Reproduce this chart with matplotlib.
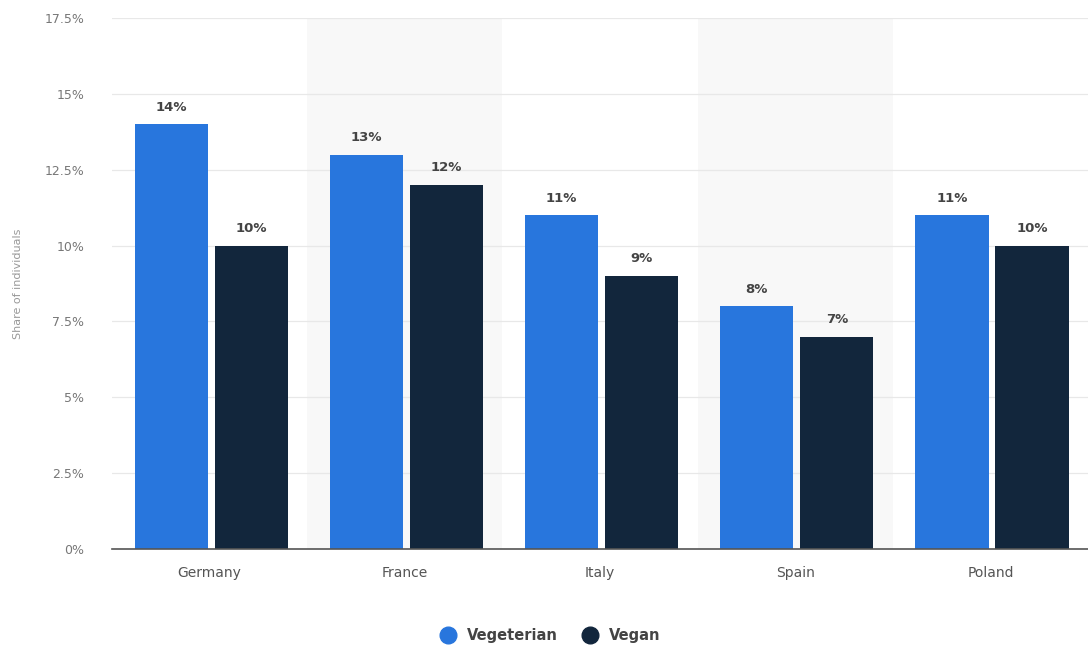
import matplotlib.pyplot as plt
import numpy as np
from matplotlib.lines import Line2D

countries = ["Germany", "France", "Italy", "Spain", "Poland"]
vegetarian = [14, 13, 11, 8, 11]
vegan = [10, 12, 9, 7, 10]
yticks = [0, 2.5, 5, 7.5, 10, 12.5, 15, 17.5]
ytick_labels = ["0%", "2.5%", "5%", "7.5%", "10%", "12.5%", "15%", "17.5%"]

blue = "#2876dd"
navy = "#12263c"

fig = plt.figure(figsize=(10.88, 6.48), dpi=100)
ax = fig.add_axes([0.103, 0.153, 0.897, 0.819])

x = np.arange(len(countries))
w = 0.376
off_a, off_b = -0.197, 0.213

# alternating background bands
for i in x:
    if i % 2 == 1:
        ax.axvspan(i - 0.5, i + 0.5, color="#f8f8f8", zorder=0, lw=0)

ax.bar(x + off_a, vegetarian, w, color=blue, zorder=3)
ax.bar(x + off_b, vegan, w, color=navy, zorder=3)

for xi, v in zip(x, vegetarian):
    ax.text(xi + off_a, v + 0.35, f"{v}%", ha="center", va="bottom",
            fontsize=9.5, fontweight="bold", color="#444444")
for xi, v in zip(x, vegan):
    ax.text(xi + off_b, v + 0.35, f"{v}%", ha="center", va="bottom",
            fontsize=9.5, fontweight="bold", color="#444444")

ax.set_xlim(-0.5, 4.5)
ax.set_ylim(0, 17.5)
ax.set_yticks(yticks)
ax.set_yticklabels(ytick_labels)
ax.set_xticks(x)
ax.set_xticklabels(countries)
ax.tick_params(axis="y", length=0, pad=20, labelsize=9, labelcolor="#777777")
ax.tick_params(axis="x", length=0, pad=12, labelsize=10, labelcolor="#555555")
ax.grid(axis="y", color="#e8e8e8", lw=0.9, zorder=1)
ax.set_axisbelow(True)
for s in ["top", "right", "left"]:
    ax.spines[s].set_visible(False)
ax.spines["bottom"].set_color("#555555")
ax.spines["bottom"].set_linewidth(1.2)
ax.spines["bottom"].set_zorder(4)

fig.text(0.012, 0.153 + 0.819 * 0.5, "Share of individuals", rotation=90,
         ha="left", va="center", fontsize=8, color="#999999")

handles = [
    Line2D([], [], marker="o", ls="", markersize=12, color=blue),
    Line2D([], [], marker="o", ls="", markersize=12, color=navy),
]
leg = fig.legend(handles, ["Vegeterian", "Vegan"], loc="center",
                 bbox_to_anchor=(0.503, 0.019), ncol=2, frameon=False,
                 handletextpad=0.3, columnspacing=1.2,
                 prop={"size": 10.5, "weight": "bold"})
for t in leg.get_texts():
    t.set_color("#444444")

fig.savefig("out.png", dpi=100)
